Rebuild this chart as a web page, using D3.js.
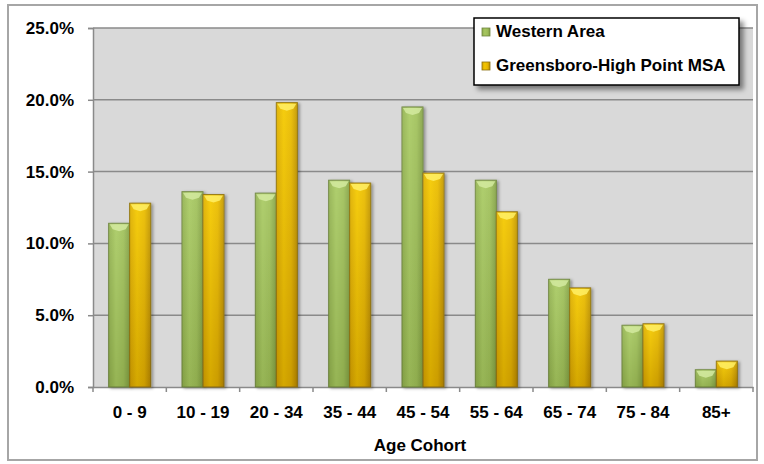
<!DOCTYPE html>
<html>
<head>
<meta charset="utf-8">
<script src="https://cdn.jsdelivr.net/npm/d3@7"></script>
<style>
  html, body { margin: 0; padding: 0; background: #fff; }
  svg { display: block; }
  text { font-family: "Liberation Sans", Arial, sans-serif; font-weight: bold; fill: #000; }
</style>
</head>
<body>
<svg id="chart" width="764" height="464"></svg>
<script>
// Age distribution by cohort
const categories = ["0 - 9", "10 - 19", "20 - 34", "35 - 44", "45 - 54", "55 - 64", "65 - 74", "75 - 84", "85+"];
const seriesNames = ["Western Area", "Greensboro-High Point MSA"];
const westernArea = [11.4, 13.6, 13.5, 14.4, 19.5, 14.4, 7.5, 4.3, 1.2];
const greensboroMSA = [12.8, 13.4, 19.8, 14.2, 14.9, 12.2, 6.9, 4.4, 1.8];
const yTicks = [0, 5, 10, 15, 20, 25];
const xTitle = "Age Cohort";

const svg = d3.select("#chart");
const plot = { left: 93, right: 753, top: 28, bottom: 387 };
const fontSize = "17px";

// gradients and shadow
const defs = svg.append("defs");
function grad(id, stops, x2, y2) {
  const g = defs.append("linearGradient").attr("id", id)
    .attr("x1", 0).attr("y1", 0).attr("x2", x2).attr("y2", y2);
  stops.forEach(s => g.append("stop").attr("offset", s[0]).attr("stop-color", s[1]));
}
grad("gGreen", [[0, "#8dab4c"], [0.35, "#a6c660"], [0.7, "#9dbc58"], [1, "#7e9a42"]], 1, 0);
grad("gYellow", [[0, "#d6a400"], [0.35, "#f3c500"], [0.7, "#e6b500"], [1, "#b58700"]], 1, 0);
grad("gYellowV", [[0, "rgba(255,230,60,0.25)"], [1, "rgba(120,80,0,0.25)"]], 0, 1);
grad("gGreenV", [[0, "rgba(230,255,190,0.15)"], [1, "rgba(60,80,20,0.15)"]], 0, 1);
const f = defs.append("filter").attr("id", "shadow")
  .attr("x", "-30%").attr("y", "-10%").attr("width", "170%").attr("height", "130%");
f.append("feDropShadow").attr("dx", 2).attr("dy", 1).attr("stdDeviation", 1.5)
  .attr("flood-color", "#000").attr("flood-opacity", 0.35);
const lf = defs.append("filter").attr("id", "legendShadow")
  .attr("x", "-10%").attr("y", "-20%").attr("width", "130%").attr("height", "160%");
lf.append("feDropShadow").attr("dx", 4).attr("dy", 4).attr("stdDeviation", 2.5)
  .attr("flood-color", "#000").attr("flood-opacity", 0.45);

// outer frame
svg.append("rect").attr("x", 8).attr("y", 5).attr("width", 749).attr("height", 455)
  .attr("fill", "#fff").attr("stroke", "#a6a6a6").attr("stroke-width", 2);

// scales
const x0 = d3.scaleBand().domain(categories).range([plot.left, plot.right])
  .paddingInner(0.427).paddingOuter(0.2135);
const x1 = d3.scaleBand().domain(seriesNames).range([0, x0.bandwidth()]).padding(0);
const y = d3.scaleLinear().domain([0, 25]).range([plot.bottom, plot.top]);
const xEdges = d3.scaleLinear().domain([0, categories.length]).range([plot.left, plot.right]);

// plot area
svg.append("rect").attr("x", plot.left).attr("y", plot.top)
  .attr("width", plot.right - plot.left).attr("height", plot.bottom - plot.top)
  .attr("fill", "#d9d9d9");

// gridlines
svg.append("g").selectAll("line").data(yTicks.filter(t => t > 0)).join("line")
  .attr("x1", plot.left).attr("x2", plot.right)
  .attr("y1", d => y(d)).attr("y2", d => y(d))
  .attr("stroke", "#8a8a8a").attr("stroke-width", 1.5);

// y axis
const yAxis = svg.append("g").attr("transform", `translate(${plot.left},0)`)
  .call(d3.axisLeft(y).tickValues(yTicks).tickSize(5).tickPadding(14)
    .tickFormat(d => d.toFixed(1) + "%"));
yAxis.select(".domain").attr("stroke", "#8a8a8a").attr("stroke-width", 1.5);
yAxis.selectAll(".tick line").attr("stroke", "#8a8a8a").attr("stroke-width", 1.5);
yAxis.selectAll(".tick text").style("font-size", fontSize).attr("fill", "#000");

// x axis: line and category boundary ticks
const xAxis = svg.append("g").attr("transform", `translate(0,${plot.bottom})`)
  .call(d3.axisBottom(x0).tickSize(0).tickPadding(19));
xAxis.select(".domain").attr("stroke", "#8a8a8a").attr("stroke-width", 1.5);
xAxis.selectAll(".tick text").style("font-size", fontSize).attr("fill", "#000");
svg.append("g").selectAll("line").data(d3.range(categories.length + 1)).join("line")
  .attr("x1", d => xEdges(d)).attr("x2", d => xEdges(d))
  .attr("y1", plot.bottom).attr("y2", plot.bottom + 5)
  .attr("stroke", "#8a8a8a").attr("stroke-width", 1.5);

// bars
const rows = categories.map((c, i) => ({ cat: c, vals: [westernArea[i], greensboroMSA[i]] }));
const fills = ["url(#gGreen)", "url(#gYellow)"];
const overlays = ["url(#gGreenV)", "url(#gYellowV)"];
const bevels = ["#d3eaa0", "#fff066"];
const strokes = ["#6f8540", "#8a6e10"];

const groups = svg.append("g").selectAll("g").data(rows).join("g")
  .attr("transform", d => `translate(${x0(d.cat)},0)`);

const bars = groups.selectAll("g").data(d => d.vals.map((v, k) => ({ v, k, name: seriesNames[k] })))
  .join("g");

bars.append("rect")
  .attr("x", d => x1(d.name)).attr("y", d => y(d.v))
  .attr("width", x1.bandwidth()).attr("height", d => y(0) - y(d.v))
  .attr("fill", d => fills[d.k]).attr("stroke", d => strokes[d.k]).attr("stroke-width", 1)
  .attr("filter", "url(#shadow)");
bars.append("rect")
  .attr("x", d => x1(d.name)).attr("y", d => y(d.v))
  .attr("width", x1.bandwidth()).attr("height", d => y(0) - y(d.v))
  .attr("fill", d => overlays[d.k]);
// bevelled top edge
bars.append("path")
  .attr("d", d => {
    const bx = x1(d.name), bw = x1.bandwidth(), by = y(d.v);
    const h = Math.min(6, (y(0) - by) / 2);
    return `M${bx + 1},${by + 1} L${bx + bw - 1},${by + 1} L${bx + bw - 4},${by + h} L${bx + bw / 2},${by + h + 2} L${bx + 4},${by + h} Z`;
  })
  .attr("fill", d => bevels[d.k]).attr("opacity", 0.85);

// axis title
svg.append("text").attr("x", (plot.left + plot.right) / 2 - 3).attr("y", 451)
  .attr("text-anchor", "middle").style("font-size", fontSize).text(xTitle);

// legend
const lg = svg.append("g");
lg.append("rect").attr("x", 474).attr("y", 18).attr("width", 265).attr("height", 67)
  .attr("fill", "#fff").attr("stroke", "#000").attr("stroke-width", 1.5)
  .attr("filter", "url(#legendShadow)");
const items = lg.selectAll("g").data(seriesNames).join("g")
  .attr("transform", (d, i) => `translate(482,${37 + i * 34})`);
items.append("rect").attr("x", 0).attr("y", -9).attr("width", 8).attr("height", 8)
  .attr("fill", (d, i) => fills[i]).attr("stroke", (d, i) => strokes[i]).attr("stroke-width", 0.8);
items.append("text").attr("x", 14).attr("y", 0).style("font-size", fontSize).text(d => d);
</script>
</body>
</html>
